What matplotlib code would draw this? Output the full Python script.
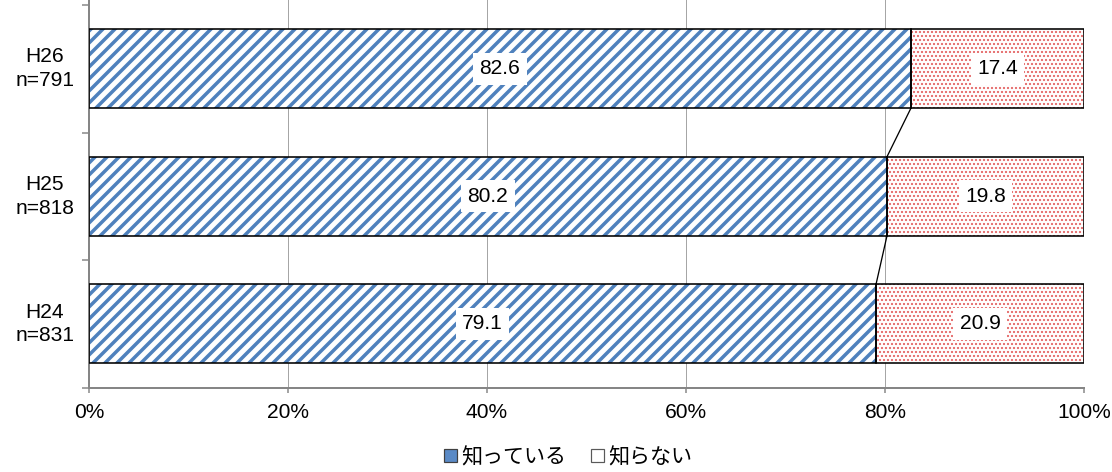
import numpy as np
import matplotlib
matplotlib.use('Agg')
import matplotlib.pyplot as plt
from matplotlib.patches import Patch
from matplotlib.ticker import FixedLocator

# data
categories = ['H24\nn=831', 'H25\nn=818', 'H26\nn=791']
know = [79.1, 80.2, 82.6]
not_know = [20.9, 19.8, 17.4]
series_names = ['知っている', '知らない']

plt.rcParams['font.family'] = ['Liberation Sans', 'Noto Sans CJK JP', 'DejaVu Sans']

W, H = 1112, 472
DPI = 72
fig = plt.figure(figsize=(W / DPI, H / DPI), dpi=DPI)
ax = fig.add_axes([89 / W, 1 - 387.5 / H, 995 / W, 387.5 / H])

blue = '#4F81BD'
red = '#E35F5F'
y = np.arange(len(categories))
bh = 0.62

# hatched fills first, then black outlines on top
b1 = ax.barh(y, know, height=bh, color='white', edgecolor=blue, hatch='//', lw=0, zorder=2)
b2 = ax.barh(y, not_know, left=know, height=bh, color='white', edgecolor=red, hatch='...', lw=0, zorder=2)
for p in b1:
	if hasattr(p, 'set_hatch_linewidth'):
		p.set_hatch_linewidth(3.5)
for p in b2:
	if hasattr(p, 'set_hatch_linewidth'):
		p.set_hatch_linewidth(1.4)
ax.barh(y, know, height=bh, fill=False, edgecolor='black', lw=1.6, zorder=3)
ax.barh(y, not_know, left=know, height=bh, fill=False, edgecolor='black', lw=1.6, zorder=3)

# series lines between bars
for i in range(len(y) - 1):
	ax.plot([know[i], know[i + 1]], [y[i] + bh / 2, y[i + 1] - bh / 2], color='black', lw=1.3, zorder=3)

# data labels
for i in range(len(y)):
	ax.text(know[i] / 2, y[i], '%.1f' % know[i], ha='center', va='center', fontsize=21, zorder=4,
		bbox=dict(boxstyle='square,pad=0.3', fc='white', ec='none'))
	ax.text(know[i] + not_know[i] / 2, y[i], '%.1f' % not_know[i], ha='center', va='center', fontsize=21, zorder=4,
		bbox=dict(boxstyle='square,pad=0.3', fc='white', ec='none'))

ax.set_xlim(0, 100)
ax.set_ylim(-0.5, -0.5 + 387.5 / 127.5)
ax.set_xticks(np.arange(0, 101, 20))
ax.set_xticklabels(['%d%%' % v for v in range(0, 101, 20)], fontsize=21)
ax.tick_params(axis='x', length=5, width=1.5, color='#868686', pad=10)
ax.grid(axis='x', color='#A6A6A6', lw=1, zorder=0)

ax.set_yticks([])
ax.yaxis.set_minor_locator(FixedLocator([-0.5, 0.5, 1.5, 2.5]))
ax.tick_params(axis='y', which='minor', length=7, width=1.5, color='#868686')
for i, c in enumerate(categories):
	ax.text(-44 / 995, y[i], c, transform=ax.get_yaxis_transform(), ha='center', va='center',
		multialignment='center', fontsize=21, linespacing=1.3)

for s in ['top', 'right']:
	ax.spines[s].set_visible(False)
for s in ['left', 'bottom']:
	ax.spines[s].set_color('#868686')
	ax.spines[s].set_linewidth(2)

handles = [Patch(facecolor='#5A8AC6', edgecolor='#404040', lw=1.2),
	Patch(facecolor='white', edgecolor='#595959', lw=1.2)]
leg = fig.legend(handles, series_names, loc='center', bbox_to_anchor=(568 / W, 15 / H), ncol=2,
	frameon=False, fontsize=21, handlelength=0.6, handleheight=0.6, handletextpad=0.2, columnspacing=1.2)

fig.savefig('out.png', dpi=DPI)
